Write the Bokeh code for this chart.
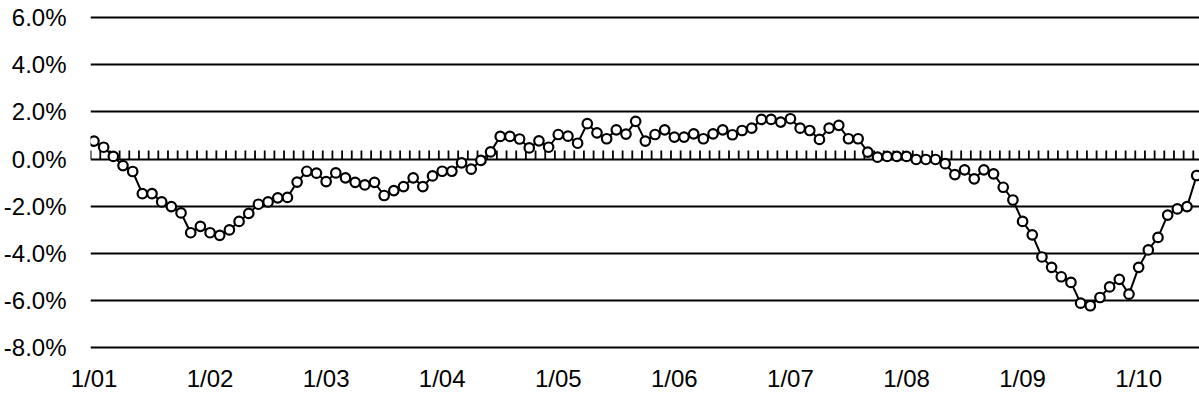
from bokeh.plotting import figure
from bokeh.models import Range1d, FixedTicker, PrintfTickFormatter
from bokeh.embed import file_html
from bokeh.resources import INLINE

# Monthly values (%), Jan 2001 .. Jul 2010
values = [
    0.76, 0.50, 0.11, -0.28, -0.53, -1.47, -1.47, -1.82, -2.02, -2.29,
    -3.13, -2.86, -3.13, -3.24, -3.01, -2.65, -2.31, -1.92, -1.82, -1.65,
    -1.63, -0.98, -0.52, -0.60, -0.96, -0.59, -0.80, -0.99, -1.10, -0.99,
    -1.55, -1.34, -1.17, -0.80, -1.17, -0.72, -0.52, -0.52, -0.16, -0.43,
    -0.06, 0.30, 0.96, 0.96, 0.85, 0.47, 0.77, 0.50, 1.04, 0.97,
    0.67, 1.50, 1.11, 0.86, 1.24, 1.06, 1.60, 0.76, 1.04, 1.24,
    0.93, 0.93, 1.07, 0.86, 1.07, 1.24, 1.03, 1.21, 1.31, 1.68,
    1.68, 1.57, 1.71, 1.31, 1.21, 0.83, 1.31, 1.43, 0.86, 0.86,
    0.29, 0.08, 0.11, 0.11, 0.11, -0.02, -0.02, -0.02, -0.20, -0.66,
    -0.46, -0.84, -0.46, -0.63, -1.20, -1.74, -2.65, -3.22, -4.16, -4.60,
    -5.00, -5.24, -6.12, -6.23, -5.88, -5.43, -5.11, -5.74, -4.60, -3.86,
    -3.33, -2.38, -2.12, -2.02, -0.70,
]
months = list(range(len(values)))  # month index from Jan 2001

x_tick_positions = [0, 12, 24, 36, 48, 60, 72, 84, 96, 108]
x_tick_labels = ["1/01", "1/02", "1/03", "1/04", "1/05", "1/06", "1/07", "1/08", "1/09", "1/10"]
y_ticks = [-8, -6, -4, -2, 0, 2, 4, 6]

FONT = "Liberation Sans"
FSIZE = "24px"

p = figure(width=1199, height=404, output_backend="svg", toolbar_location=None,
           x_range=Range1d(-0.36, 114.29), y_range=Range1d(-8.47, 6.73),
           min_border_left=88, min_border_right=0, min_border_top=0, min_border_bottom=46)
p.outline_line_color = None
p.background_fill_color = "white"
p.border_fill_color = "white"

# grid
p.xgrid.visible = False
p.ygrid.ticker = FixedTicker(ticks=y_ticks)
p.ygrid.grid_line_color = "black"
p.ygrid.grid_line_width = 2

# axes
p.xaxis.ticker = FixedTicker(ticks=x_tick_positions)
p.xaxis.major_label_overrides = {pos: lab for pos, lab in zip(x_tick_positions, x_tick_labels)}
p.yaxis.ticker = FixedTicker(ticks=y_ticks)
p.yaxis.formatter = PrintfTickFormatter(format="%.1f%%")
for ax in (p.xaxis, p.yaxis):
    ax.axis_line_color = None
    ax.major_tick_line_color = None
    ax.minor_tick_line_color = None
    ax.major_tick_out = 0
    ax.major_tick_in = 0
    ax.major_label_text_font = FONT
    ax.major_label_text_font_size = FSIZE
    ax.major_label_text_color = "black"
p.xaxis.major_label_standoff = 6
p.yaxis.major_label_standoff = 24

# monthly tick marks on the zero line
tick_x = [m - 0.35 for m in range(len(values) + 1)]
p.segment(x0=tick_x, y0=[0] * len(tick_x), x1=tick_x, y1=[0.36] * len(tick_x),
          line_color="black", line_width=1.8)

# series
p.line(months, values, line_color="black", line_width=2)
p.scatter(months, values, size=9.5, marker="circle", fill_color="white",
          line_color="black", line_width=2.2)

open("out.html", "w").write(file_html(p, INLINE))
